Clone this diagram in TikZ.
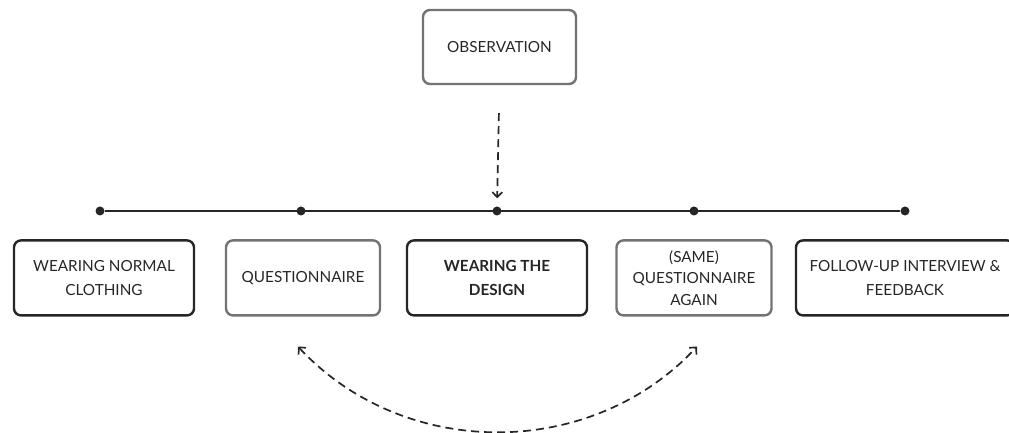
\documentclass[tikz,border=0pt]{standalone}
\usepackage{fontspec}
\setmainfont{Lato}
\usepackage{tikz}
\usetikzlibrary{arrows.meta,positioning,calc}

\begin{document}
\begin{tikzpicture}[
    x=1pt, y=1pt,
    font=\fontsize{15.3}{24}\selectfont,
    step box/.style={rectangle, draw=black!85, line width=2.4pt, rounded corners=7pt, minimum height=75pt, align=center, text=black!85},
    soft box/.style={step box, draw=black!55},
    dot/.style={circle, fill=black!85, inner sep=0pt, minimum size=9pt},
    timeline/.style={line width=1.6pt, black!85},
    dasharrow/.style={-{Straight Barb[length=5pt,width=10pt]}, line width=1.7pt, black!85, dash pattern=on 8pt off 5pt}
]
\useasboundingbox (0,0) rectangle (1009,433);

% Timeline dots
\node[dot] (d1) at (100,222) {};
\node[dot] (d2) at (301,222) {};
\node[dot] (d3) at (497,222) {};
\node[dot] (d4) at (694,222) {};
\node[dot] (d5) at (905,222) {};

% Observation on top
\node[soft box, minimum width=153pt, minimum height=74pt] (obs) at (499.5,386) {OBSERVATION};

% Steps
\node[step box, minimum width=180pt, below=23.5pt of d1, xshift=4pt] (normal) {WEARING NORMAL\\CLOTHING};
\node[soft box, minimum width=154pt, below=23.5pt of d2, xshift=2pt] (quest) {QUESTIONNAIRE};
\node[step box, minimum width=180pt, below=23.5pt of d3] (design) {\bfseries WEARING THE\\\bfseries DESIGN};
\node[soft box, minimum width=155pt, below=23.5pt of d4] (same) {(SAME)\\[-2.5pt]QUESTIONNAIRE\\[-2.5pt]AGAIN};
\node[step box, minimum width=218pt, below=23.5pt of d5] (follow) {FOLLOW-UP INTERVIEW \&\\FEEDBACK};

% Arrow ends under the questionnaires
\coordinate (c1) at ([xshift=-5pt,yshift=-30pt]quest.south);
\coordinate (c2) at ([xshift=3pt,yshift=-30pt]same.south);

% Connections
\draw[timeline] (d1) -- (d5);
\draw[dasharrow, shorten <=28pt, shorten >=8pt] (obs.south) -- (d3.north);
\draw[dasharrow, {Straight Barb[length=5pt,width=10pt]}-{Straight Barb[length=5pt,width=10pt]}] (c1) to[bend right=47] (c2);

\end{tikzpicture}
\end{document}
